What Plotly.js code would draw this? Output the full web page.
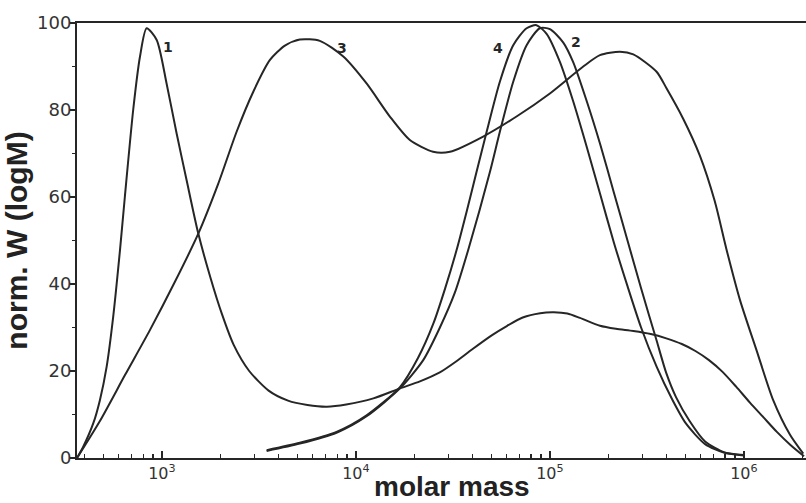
<!DOCTYPE html>
<html>
<head>
<meta charset="utf-8">
<script src="https://cdn.plot.ly/plotly-3.0.1.min.js"></script>
<style>html,body{margin:0;padding:0;background:#fff;}#chart{width:806px;height:503px;}</style>
</head>
<body>
<div id="chart"></div>
<script>
// molar mass (g/mol) and normalised W(logM)
const curve1M = [365, 393, 443, 479, 519, 561, 608, 644, 711, 771, 834, 940, 1057, 1191, 1340, 1538, 1778, 2042, 2344, 2818, 3548, 4467, 5623, 7079, 8913, 12303, 16866, 21380, 26915, 33113, 39811, 50119, 60256, 72444, 89125, 104713, 123027, 142889, 181134, 218776, 269153, 331131, 398107, 478630, 562341, 660693, 776247, 912011, 1071519, 1258925, 1479108, 1737801, 2041738];
const curve1W = [0, 2.6, 8.0, 13.3, 21.0, 32.5, 47.8, 60, 80, 92.3, 98.8, 96.1, 86.1, 74.6, 63.9, 51.7, 41.5, 33, 26, 20, 15.5, 13.2, 12.2, 11.8, 12.3, 13.7, 16.0, 17.6, 19.6, 22.3, 25.0, 28.2, 30.4, 32.3, 33.3, 33.5, 33.2, 32.2, 30.4, 29.7, 29.2, 28.5, 27.5, 26.2, 24.6, 22.5, 19.8, 16.4, 12.8, 9.4, 6.0, 3.0, 0.4];

const curve3M = [365, 479, 644, 867, 1167, 1538, 1950, 2427, 2958, 3606, 4305, 5140, 6516, 8610, 11350, 14962, 18967, 25003, 30549, 45290, 67298, 100000, 148594, 181134, 229615, 269153, 354813, 399025, 486407, 592925, 707946, 812831, 954993, 1161449, 1415794, 1725837, 2023000];
const curve3W = [0, 8.5, 19, 29.4, 40.5, 51.5, 63, 75, 84.2, 91.5, 94.8, 96.2, 95.9, 92.3, 86.1, 78.5, 73.1, 70.4, 70.4, 73.9, 78.5, 83.8, 90, 92.6, 93.4, 92.8, 88.8, 85, 78, 69.5, 59, 48, 36.3, 24.8, 13.3, 5.4, 1.0];

const curve4M = [3467, 5140, 7943, 11350, 16866, 20893, 25119, 28840, 33037, 37154, 41879, 47206, 55208, 64714, 75858, 85310, 96161, 112720, 131826, 154882, 181970, 213796, 251189, 295121, 354813, 426580, 501187, 630957, 794328, 1000000];
const curve4W = [1.8, 3.5, 6.0, 9.8, 16.3, 23, 31, 39, 47.8, 56.5, 65.8, 75, 86.5, 94.9, 98.8, 99.5, 97.5, 91, 82, 71.5, 60.5, 49.5, 39.5, 30, 21, 13.5, 8, 3.2, 1.2, 0.6];

const curve2M = [3467, 5140, 7943, 11350, 16866, 22233, 27102, 32359, 38019, 49091, 55208, 64714, 75858, 88716, 100000, 117220, 131826, 154882, 181970, 213796, 251189, 295121, 354813, 398107, 446684, 524807, 630957, 794328, 1000000];
const curve2W = [1.6, 3.3, 5.8, 9.6, 16.0, 22.5, 30, 38, 48, 65.8, 75, 86.5, 94.9, 98.8, 98.6, 95.5, 91, 82, 72, 61, 50, 39, 27, 19.5, 14, 8.5, 3.8, 1.3, 0.7];

// curve labels
const labelText = ["1", "2", "3", "4"];
const labelM = [1075, 137000, 8430, 54200];
const labelW = [94.5, 95.7, 94.2, 94.2];

// axis ticks and titles
const xMajorVals = [1e3, 1e4, 1e5, 1e6];
const xMajorText = ["10<sup>3</sup>", "10<sup>4</sup>", "10<sup>5</sup>", "10<sup>6</sup>"];
const xMinorVals = [400, 500, 600, 700, 800, 900, 2e3, 3e3, 4e3, 5e3, 6e3, 7e3, 8e3, 9e3, 2e4, 3e4, 4e4, 5e4, 6e4, 7e4, 8e4, 9e4, 2e5, 3e5, 4e5, 5e5, 6e5, 7e5, 8e5, 9e5, 2e6];
const yMajorVals = [0, 20, 40, 60, 80, 100];
const yMinorVals = [10, 30, 50, 70, 90];
const xTitle = 'molar mass';
const yTitle = 'norm. W (logM)';

const ink = '#262626';
const lineStyle = {color: ink, width: 2, shape: 'spline', smoothing: 0.7};

const traces = [
  {x: curve1M, y: curve1W, name: '1'},
  {x: curve2M, y: curve2W, name: '2'},
  {x: curve3M, y: curve3W, name: '3'},
  {x: curve4M, y: curve4W, name: '4'}
].map(t => Object.assign(t, {type: 'scatter', mode: 'lines', line: lineStyle, hoverinfo: 'x+y'}));

const titleFont = {family: 'Liberation Sans, Arial, sans-serif', size: 30, color: '#222', weight: 'bold'};

const annotations = labelText.map((t, i) => ({
  x: Math.log10(labelM[i]), y: labelW[i], xref: 'x', yref: 'y', text: t,
  showarrow: false, font: {family: 'DejaVu Sans', size: 14, color: ink, weight: 'bold'}
}));
// x-axis title, placed slightly right of centre as in the original
annotations.push({
  text: xTitle, xref: 'paper', yref: 'paper', x: 0.514, y: -0.025,
  xanchor: 'center', yanchor: 'top', showarrow: false,
  font: Object.assign({}, titleFont, {size: 28})
});

const layout = {
  width: 806, height: 503,
  margin: {l: 77, r: 0, t: 23, b: 45, pad: 0},
  paper_bgcolor: '#fff', plot_bgcolor: '#fff',
  showlegend: false,
  font: {family: 'DejaVu Sans', color: '#333'},
  xaxis: {
    type: 'log', range: [Math.log10(365), Math.log10(2.09e6)],
    showgrid: false, zeroline: false,
    showline: true, linecolor: ink, linewidth: 2, mirror: true,
    ticks: 'inside', ticklen: 7, tickwidth: 1.5, tickcolor: ink,
    tickmode: 'array', tickvals: xMajorVals, ticktext: xMajorText,
    tickfont: {family: 'DejaVu Sans', size: 16, color: '#333'},
    minor: {ticks: 'inside', ticklen: 4, tickwidth: 1.2, tickcolor: ink, tickmode: 'array', tickvals: xMinorVals, showgrid: false},
    automargin: false
  },
  yaxis: {
    range: [0, 100], showgrid: false, zeroline: false,
    showline: true, linecolor: ink, linewidth: 2,
    ticks: 'outside', ticklen: 5, tickwidth: 1.5, tickcolor: ink,
    tickmode: 'array', tickvals: yMajorVals,
    ticklabelstandoff: -5,
    tickfont: {family: 'DejaVu Sans', size: 18, color: '#333'},
    minor: {ticks: 'outside', ticklen: 3, tickwidth: 1.2, tickcolor: ink, tickmode: 'array', tickvals: yMinorVals, showgrid: false},
    title: {text: yTitle, standoff: 2, font: titleFont},
    automargin: false
  },
  annotations: annotations
};

Plotly.newPlot('chart', traces, layout, {displayModeBar: false, staticPlot: true});
</script>
</body>
</html>
